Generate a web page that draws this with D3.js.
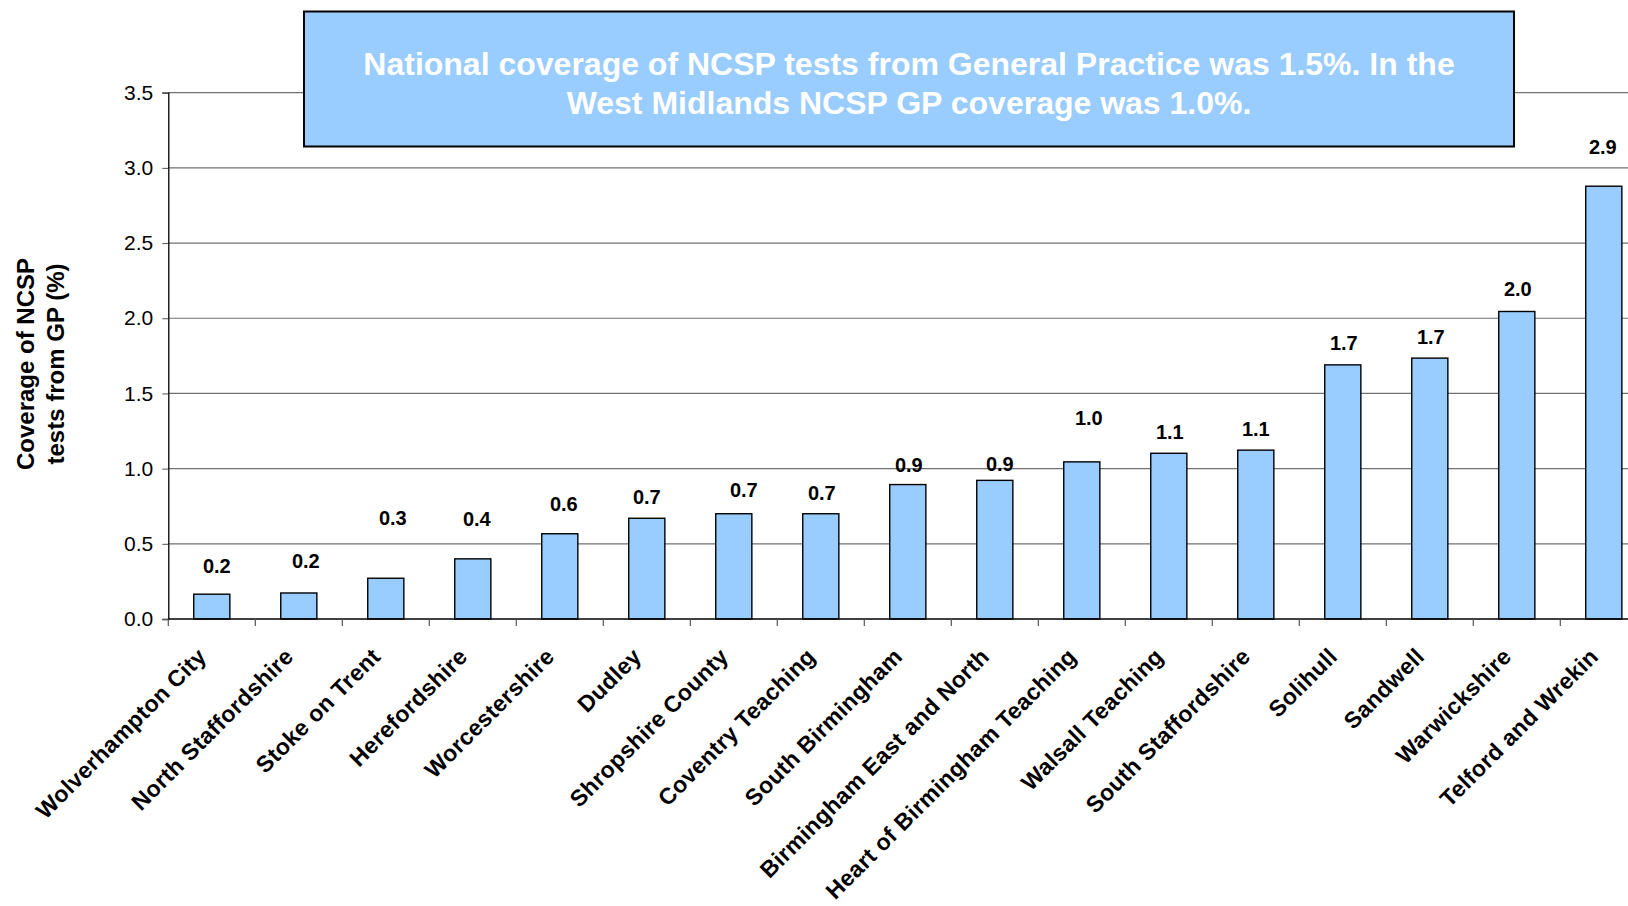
<!DOCTYPE html>
<html>
<head>
<meta charset="utf-8">
<script src="https://cdn.jsdelivr.net/npm/d3@7"></script>
<style>
  html, body { margin: 0; padding: 0; background: #fff; }
  svg { display: block; font-family: "Liberation Sans", Arial, sans-serif; }
</style>
</head>
<body>
<svg id="chart" width="1628" height="906"></svg>
<script>
// ---------- data ----------
const categories = [
  "Wolverhampton City", "North Staffordshire", "Stoke on Trent", "Herefordshire",
  "Worcestershire", "Dudley", "Shropshire County", "Coventry Teaching",
  "South Birmingham", "Birmingham East and North", "Heart of Birmingham Teaching",
  "Walsall Teaching", "South Staffordshire", "Solihull", "Sandwell",
  "Warwickshire", "Telford and Wrekin"
];
const coverage = [
  0.165, 0.173, 0.271, 0.40, 0.567, 0.67, 0.70, 0.70,
  0.894, 0.922, 1.045, 1.102, 1.123, 1.69, 1.735, 2.045, 2.878
];
const yTickValues = [0, 0.5, 1.0, 1.5, 2.0, 2.5, 3.0, 3.5];
const yTitleLines = ["Coverage of NCSP", "tests from GP (%)"];
const noteLines = [
  "National coverage of NCSP tests from General Practice was 1.5%. In the",
  "West Midlands NCSP GP coverage was 1.0%."
];

// ---------- layout (not data) ----------
const W = 1628, H = 906;
const plotLeft = 168.3, step = 87.0, y0 = 619, yTop = 92.7;
const labelLift = [21, 25, 53, 33, 23, 14, 17, 14, 13, 9, 37, 14, 14, 15, 14, 15, 32];
const labelShift = [5, 7, 7, 4, 4, 0, 10, 1, 1, 5, 7, 1, 0, 1, 1, 1, -1];
const barFill = "#99CCFF";

const svg = d3.select("#chart");
svg.append("rect").attr("width", W).attr("height", H).attr("fill", "#fff");

const x = d3.scaleBand()
  .domain(categories)
  .range([plotLeft, plotLeft + step * categories.length])
  .paddingInner(0.585)
  .paddingOuter(0.2925);

const y = d3.scaleLinear().domain([0, 3.5]).range([y0, yTop]);

// gridlines
svg.append("g").selectAll("line")
  .data(yTickValues.filter(d => d > 0))
  .join("line")
  .attr("x1", plotLeft).attr("x2", W)
  .attr("y1", d => y(d)).attr("y2", d => y(d))
  .attr("stroke", "#707070").attr("stroke-width", 1.2);

// bars
svg.append("g").selectAll("rect")
  .data(categories)
  .join("rect")
  .attr("x", d => x(d))
  .attr("width", x.bandwidth())
  .attr("y", (d, i) => y(coverage[i]))
  .attr("height", (d, i) => y0 - y(coverage[i]))
  .attr("fill", barFill)
  .attr("stroke", "#000")
  .attr("stroke-width", 1.4);

// y axis
const yAxis = d3.axisLeft(y)
  .tickValues(yTickValues)
  .tickFormat(d3.format(".1f"))
  .tickSize(6)
  .tickPadding(9);
const gy = svg.append("g").attr("transform", `translate(${plotLeft},0)`).call(yAxis);
gy.select(".domain").attr("stroke", "#000").attr("stroke-width", 1.3);
gy.selectAll(".tick line").attr("stroke", "#555");
gy.selectAll(".tick text")
  .attr("font-size", 21)
  .attr("font-family", "\"Liberation Sans\", Arial, sans-serif")
  .attr("fill", "#000");

// x axis baseline and tick marks at band boundaries
svg.append("line")
  .attr("x1", plotLeft).attr("x2", W)
  .attr("y1", y0).attr("y2", y0)
  .attr("stroke", "#000").attr("stroke-width", 1.3);
svg.append("g").selectAll("line")
  .data(d3.range(categories.length + 1))
  .join("line")
  .attr("x1", i => plotLeft + i * x.step())
  .attr("x2", i => plotLeft + i * x.step())
  .attr("y1", y0).attr("y2", y0 + 7)
  .attr("stroke", "#555").attr("stroke-width", 1.2);

// category labels
svg.append("g").selectAll("text")
  .data(categories)
  .join("text")
  .attr("transform", d => `translate(${x(d) + x.bandwidth() / 2 - 4},${y0 + 39}) rotate(-45)`)
  .attr("text-anchor", "end")
  .attr("font-size", 23)
  .attr("font-weight", "bold")
  .attr("letter-spacing", 0.35)
  .attr("fill", "#000")
  .text(d => d);

// value labels
svg.append("g").selectAll("text")
  .data(categories)
  .join("text")
  .attr("x", (d, i) => x(d) + x.bandwidth() / 2 + labelShift[i])
  .attr("y", (d, i) => y(coverage[i]) - labelLift[i])
  .attr("text-anchor", "middle")
  .attr("font-size", 20)
  .attr("font-weight", "bold")
  .attr("fill", "#000")
  .text((d, i) => d3.format(".1f")(coverage[i]));

// y axis title
const yt = svg.append("text")
  .attr("transform", "translate(34,364) rotate(-90)")
  .attr("text-anchor", "middle")
  .attr("font-size", 24)
  .attr("font-weight", "bold")
  .attr("fill", "#000");
yt.selectAll("tspan")
  .data(yTitleLines)
  .join("tspan")
  .attr("x", 0)
  .attr("dy", (d, i) => i === 0 ? 0 : 30)
  .text(d => d);

// note box
svg.append("rect")
  .attr("x", 304).attr("y", 11.5)
  .attr("width", 1210).attr("height", 135)
  .attr("fill", barFill)
  .attr("stroke", "#000").attr("stroke-width", 2);
svg.append("g").selectAll("text")
  .data(noteLines)
  .join("text")
  .attr("x", 909)
  .attr("y", (d, i) => 75 + i * 39)
  .attr("text-anchor", "middle")
  .attr("font-size", 32)
  .attr("font-weight", "bold")
  .attr("fill", "#fff")
  .text(d => d);
</script>
</body>
</html>
